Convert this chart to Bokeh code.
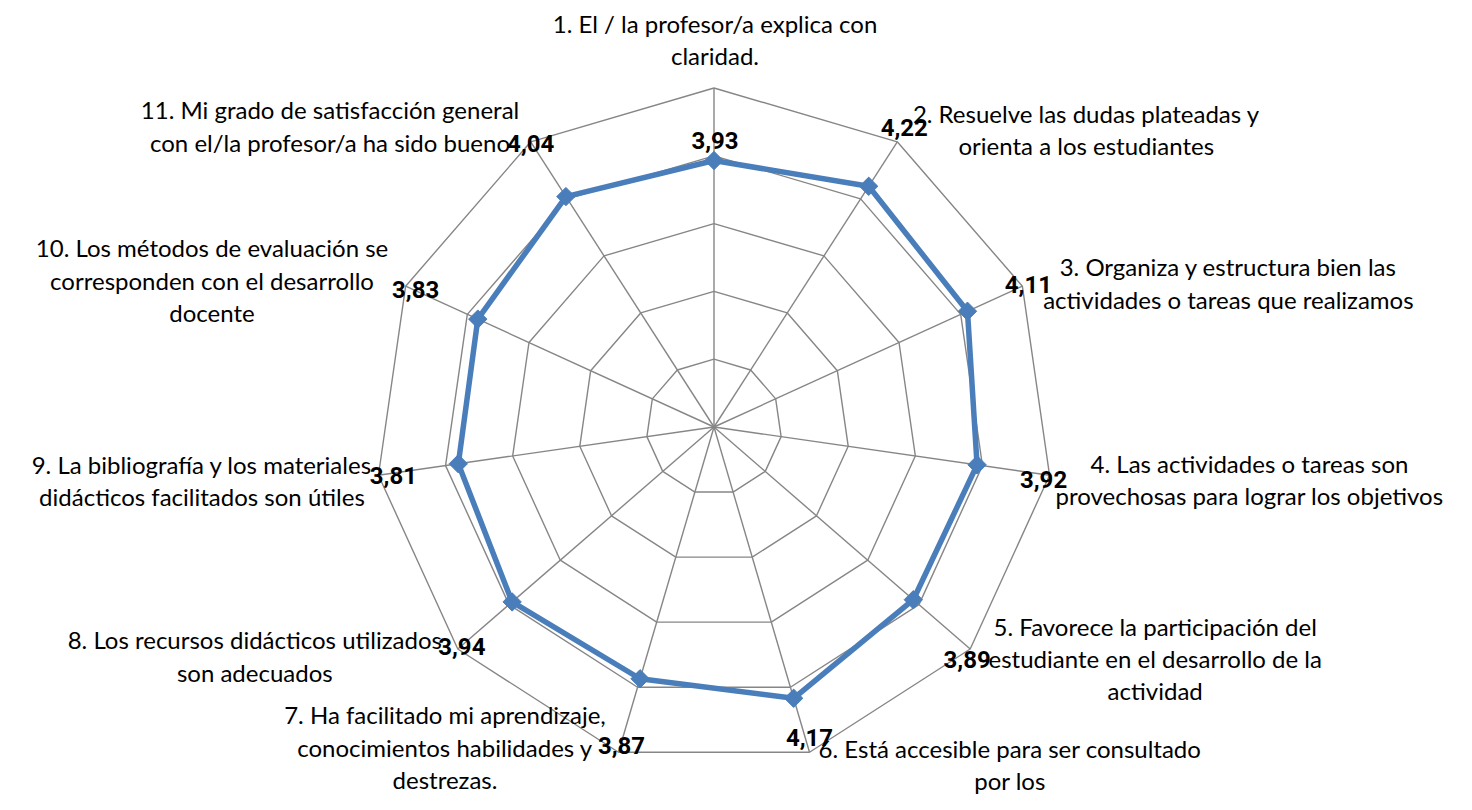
import numpy as np
from bokeh.plotting import figure
from bokeh.models import Range1d, ColumnDataSource
from bokeh.embed import file_html
from bokeh.resources import INLINE
from bokeh.core.properties import value

# ---- data ----
categories = [
    "1. El / la profesor/a explica con\nclaridad.",
    "2. Resuelve las dudas plateadas y\norienta a los estudiantes",
    "3. Organiza y estructura bien las\nactividades o tareas que realizamos",
    "4. Las actividades o tareas son\nprovechosas para lograr los objetivos",
    "5. Favorece la participación del\nestudiante en el desarrollo de la\nactividad",
    "6. Está accesible para ser consultado\npor los",
    "7. Ha facilitado mi aprendizaje,\nconocimientos habilidades y\ndestrezas.",
    "8. Los recursos didácticos utilizados\nson adecuados",
    "9. La bibliografía y los materiales\ndidácticos facilitados son útiles",
    "10. Los métodos de evaluación se\ncorresponden con el desarrollo\ndocente",
    "11. Mi grado de satisfacción general\ncon el/la profesor/a ha sido bueno",
]
values = [3.93, 4.22, 4.11, 3.92, 3.89, 4.17, 3.87, 3.94, 3.81, 3.83, 4.04]
value_labels = ["3,93", "4,22", "4,11", "3,92", "3,89", "4,17", "3,87", "3,94", "3,81", "3,83", "4,04"]
ring_levels = [1, 2, 3, 4, 5]

# ---- style / layout ----
W, H = 1456, 794
PX = 339.0 / 5.0          # pixels per unit
CX, CY = 713.5, 426.5     # centre in frame pixels
R_MAX = ring_levels[-1]

# pixel offsets (screen, y down) of the value labels from the outer vertex
val_dx = [1, 7, 6, -6, -3, 0, 3, 4, 15, 10, 0]
val_dy = [52, -14, -2, 4, 11, -15, -7, -2, 0, 3, 2]
# pixel offsets of the category-label block centres from the outer vertex
cat_dx = [1, 189, 206, 200, 185, 200.5, -173.5, -203, -176.5, -193.6, -200.7]
cat_dy = [-48.5, -12.5, -3, 4, 9.5, 12, -5, 7, 5, -6, -16]

n = len(values)
theta = np.pi / 2 - np.arange(n) * 2 * np.pi / n
cos_t, sin_t = np.cos(theta), np.sin(theta)

p = figure(width=W, height=H, output_backend="svg", toolbar_location=None,
           x_range=Range1d(-CX / PX, (W - CX) / PX),
           y_range=Range1d(-(H - CY) / PX, CY / PX),
           min_border=0, outline_line_color=None, background_fill_color="white",
           border_fill_color="white")
p.axis.visible = False
p.grid.visible = False

grid_col = "#868686"
# spokes
p.segment(x0=[0] * n, y0=[0] * n, x1=R_MAX * cos_t, y1=R_MAX * sin_t,
          line_color=grid_col, line_width=1.4)
# rings
for lv in ring_levels:
    xs = list(lv * cos_t) + [lv * cos_t[0]]
    ys = list(lv * sin_t) + [lv * sin_t[0]]
    p.line(xs, ys, line_color=grid_col, line_width=1.4)

# data series
vals = np.array(values)
dx = vals * cos_t
dy = vals * sin_t
p.line(list(dx) + [dx[0]], list(dy) + [dy[0]], line_color="#4A7EBB", line_width=5.5,
       line_join="round")
p.scatter(dx, dy, marker="square", angle=np.pi / 4, size=13,
          fill_color="#4A7EBB", line_color="#4A7EBB")

# category labels
cat_src = ColumnDataSource(dict(x=R_MAX * cos_t, y=R_MAX * sin_t, t=categories,
                                xo=cat_dx, yo=cat_dy))
p.text(x="x", y="y", text="t", x_offset="xo", y_offset="yo", source=cat_src,
       text_align="center", text_baseline="middle", text_font=value("Lato"),
       text_font_size="24px", text_line_height=1.12, text_color="black")

# value labels
val_src = ColumnDataSource(dict(x=R_MAX * cos_t, y=R_MAX * sin_t, t=value_labels,
                                xo=val_dx, yo=val_dy))
p.text(x="x", y="y", text="t", x_offset="xo", y_offset="yo", source=val_src,
       text_align="center", text_baseline="middle",
       text_font=value("Roboto"), text_font_style="bold",
       text_font_size="24px", text_color="black")

open("out.html", "w").write(file_html(p, INLINE))
